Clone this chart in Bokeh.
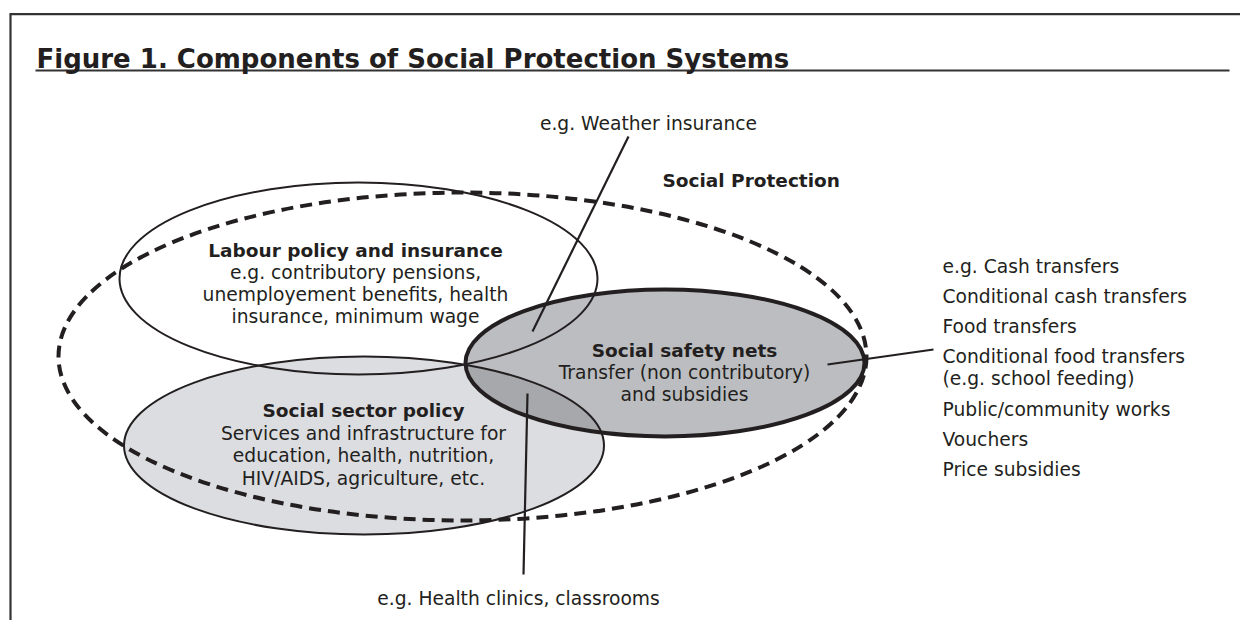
import numpy as np
from bokeh.plotting import figure
from bokeh.models import Range1d
from bokeh.core.properties import value
from bokeh.embed import file_html
from bokeh.resources import INLINE

# ---------------- data ----------------
TITLE = "Figure 1. Components of Social Protection Systems"

# ellipses (page pixel units): Social Protection, Labour, Social sector, Safety nets
ELL_CX = [462, 358, 363.5, 664.5]
ELL_CY = [356, 278, 445, 362.5]
ELL_RX = [404, 239, 240, 199.5]
ELL_RY = [164, 96, 89, 73.5]

LABOUR_LINES = ["Labour policy and insurance", "e.g. contributory pensions,",
                "unemployement benefits, health", "insurance, minimum wage"]
SECTOR_LINES = ["Social sector policy", "Services and infrastructure for",
                "education, health, nutrition,", "HIV/AIDS, agriculture, etc."]
NETS_LINES = ["Social safety nets", "Transfer (non contributory)", "and subsidies"]
RIGHT_LINES = ["e.g. Cash transfers", "Conditional cash transfers", "Food transfers",
               "Conditional food transfers", "(e.g. school feeding)",
               "Public/community works", "Vouchers", "Price subsidies"]
RIGHT_BASELINES = [266, 296, 326, 356, 378, 409, 439, 469]
SP_LABEL = "Social Protection"
WEATHER = "e.g. Weather insurance"
CLINICS = "e.g. Health clinics, classrooms"

# leader lines: (x0, y0, x1, y1)
LEADERS = [(628, 136, 532, 331), (827, 364, 933, 349), (527, 393, 523, 574)]

INK = "#231f20"
FONT = value("DejaVu Sans")
BODY = "18.7px"
BOLD = "18.5px"

# --------------- helpers ---------------
def ellipse_pts(cx, cy, rx, ry, n=400):
    t = np.linspace(0, 2 * np.pi, n, endpoint=False)
    return [(cx + rx * np.cos(a), cy + ry * np.sin(a)) for a in t]

def clip_poly(subject, clipper):
    area = sum(clipper[i][0] * clipper[(i + 1) % len(clipper)][1] -
               clipper[(i + 1) % len(clipper)][0] * clipper[i][1] for i in range(len(clipper)))
    s = 1 if area > 0 else -1
    def inside(p, a, b):
        return s * ((b[0] - a[0]) * (p[1] - a[1]) - (b[1] - a[1]) * (p[0] - a[0])) >= 0
    def inter(p, q, a, b):
        x1, y1 = p; x2, y2 = q; x3, y3 = a; x4, y4 = b
        d = (x1 - x2) * (y3 - y4) - (y1 - y2) * (x3 - x4)
        t = ((x1 - x3) * (y3 - y4) - (y1 - y3) * (x3 - x4)) / d
        return (x1 + t * (x2 - x1), y1 + t * (y2 - y1))
    out = subject
    for i in range(len(clipper)):
        a, b = clipper[i], clipper[(i + 1) % len(clipper)]
        inp, out = out, []
        if not inp:
            break
        prev = inp[-1]
        for cur in inp:
            if inside(cur, a, b):
                if not inside(prev, a, b):
                    out.append(inter(prev, cur, a, b))
                out.append(cur)
            elif inside(prev, a, b):
                out.append(inter(prev, cur, a, b))
            prev = cur
    return out

# --------------- figure ---------------
W, H = 1240, 620
OX, OY = 0, 0
p = figure(width=W, height=H, x_range=Range1d(OX, OX + W), y_range=Range1d(OY + H, OY),
           output_backend="svg", toolbar_location=None, min_border=0,
           x_axis_type=None, y_axis_type=None)
p.grid.visible = False
p.outline_line_color = None
p.background_fill_color = "white"

# frame and title rule
p.line([10, 10, 1260], [660, 13.7, 13.7], line_color="#333333", line_width=2.2, line_join="miter")
p.segment(x0=[35], y0=[70], x1=[1229], y1=[70], line_color="#333333", line_width=2.2)
p.text(x=[36], y=[58], text=[TITLE], text_font=FONT, text_font_style="bold",
       text_font_size="26px", text_color=INK, text_baseline="alphabetic")

# fills
sp, lab, sec, net = 0, 1, 2, 3
p.ellipse(x=[ELL_CX[lab]], y=[ELL_CY[lab]], width=[2 * ELL_RX[lab]], height=[2 * ELL_RY[lab]],
          fill_color="white", line_color=None)
p.ellipse(x=[ELL_CX[sec]], y=[ELL_CY[sec]], width=[2 * ELL_RX[sec]], height=[2 * ELL_RY[sec]],
          fill_color="#dcdde0", line_color=None)
p.ellipse(x=[ELL_CX[net]], y=[ELL_CY[net]], width=[2 * ELL_RX[net]], height=[2 * ELL_RY[net]],
          fill_color="#bcbdc0", line_color=None)
poly = clip_poly(ellipse_pts(ELL_CX[sec], ELL_CY[sec], ELL_RX[sec], ELL_RY[sec]),
                 ellipse_pts(ELL_CX[net], ELL_CY[net], ELL_RX[net], ELL_RY[net]))
p.patch([q[0] for q in poly], [q[1] for q in poly], fill_color="#a7a8ab", line_color=None)

# outlines
for k, lw in ((lab, 2.0), (sec, 2.0), (net, 4.0)):
    p.ellipse(x=[ELL_CX[k]], y=[ELL_CY[k]], width=[2 * ELL_RX[k]], height=[2 * ELL_RY[k]],
              fill_color=None, line_color=INK, line_width=lw)
p.ellipse(x=[ELL_CX[sp]], y=[ELL_CY[sp]], width=[2 * ELL_RX[sp]], height=[2 * ELL_RY[sp]],
          fill_color=None, line_color=INK, line_width=4, line_dash="12 7")

# leaders
p.segment(x0=[l[0] for l in LEADERS], y0=[l[1] for l in LEADERS],
          x1=[l[2] for l in LEADERS], y1=[l[3] for l in LEADERS],
          line_color=INK, line_width=2.2)

def block(lines, cx, y0, dy, bold_first=True):
    for i, t in enumerate(lines):
        b = (i == 0 and bold_first)
        p.text(x=[cx], y=[y0 + i * dy], text=[t], text_font=FONT,
               text_font_style="bold" if b else "normal",
               text_font_size=BOLD if b else BODY, text_color=INK, text_align="center",
               text_baseline="alphabetic")

block(LABOUR_LINES, 355, 250, 22)
block(SECTOR_LINES, 363, 410, 22.5)
block(NETS_LINES, 684, 350, 22)

p.text(x=[942] * len(RIGHT_LINES), y=RIGHT_BASELINES, text=RIGHT_LINES, text_font=FONT,
       text_font_size=BODY, text_color=INK, text_align="left", text_baseline="alphabetic")
p.text(x=[662], y=[180], text=[SP_LABEL], text_font=FONT, text_font_style="bold",
       text_font_size=BOLD, text_color=INK, text_align="left", text_baseline="alphabetic")
p.text(x=[648], y=[123], text=[WEATHER], text_font=FONT, text_font_size=BODY,
       text_color=INK, text_align="center", text_baseline="alphabetic")
p.text(x=[518], y=[598], text=[CLINICS], text_font=FONT, text_font_size=BODY,
       text_color=INK, text_align="center", text_baseline="alphabetic")

open("out.html", "w").write(file_html(p, INLINE))
